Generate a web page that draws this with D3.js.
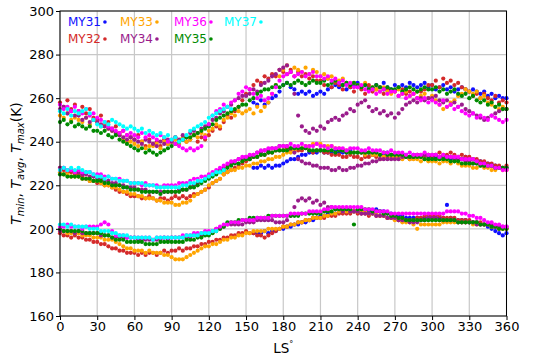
<!DOCTYPE html>
<html>
<head>
<meta charset="utf-8">
<script src="https://cdn.jsdelivr.net/npm/d3@7"></script>
<style>
  body { margin: 0; background: #fff; }
  svg text { font-family: "DejaVu Sans", sans-serif; }
</style>
</head>
<body>
<svg id="chart" width="550" height="361"></svg>
<script>
'use strict';

// ---- series meta ----
const seriesNames = ['MY31', 'MY32', 'MY33', 'MY34', 'MY35', 'MY36', 'MY37'];
const seriesColors = ['#1010ff', '#d42a2a', '#ffa500', '#9a1c8c', '#008a00', '#ff00ff', '#00ffff'];
const seriesStartLs = [156, 0, 0, 0, 0, 0, 0];   // first solar longitude of each record
const lsStep = 3;                                 // one value every 3 deg of LS

const xTicks = [0, 30, 60, 90, 120, 150, 180, 210, 240, 270, 300, 330, 360];
const yTicks = [160, 180, 200, 220, 240, 260, 280, 300];

// ---- Tmax (K) ----
const my31Max = [258,257,259,257,258,260,261,263,266,267, 265,264,262,263,262,263,261,262,263,262,
  264,265,266,265,266,264,265,266,267,265, 266,265,264,266,265,267,265,264,266,265,
  266,265,267,266,265,266,267,265,266,264, 265,266,264,265,263,264,265,264,263,264,
  263,262,263,261,262,260,261,260,260];
const my32Max = [258,256,259,255,257,254,256,253,255,251, 250,252,248,249,246,247,244,245,243,242,
  241,243,240,238,241,239,240,238,241,239, 240,242,239,241,240,241,243,240,242,241,
  243,245,247,246,249,252,251,254,256,259, 262,264,266,268,267,270,269,271,270,273,
  272,271,273,270,272,270,271,269,270,268, 268,266,269,265,267,266,264,267,265,263,
  265,264,262,266,263,264,265,262,264,263, 263,261,264,262,263,262,260,263,264,266,
  266,268,265,269,267,268,266,267,265,264, 263,261,262,260,262,260,259,261,258,259, 258];
const my33Max = [252,251,253,250,251,250,249,251,248,250, 249,247,248,246,245,244,243,241,240,240,
  239,238,240,237,238,238,239,237,240,239, 240,241,239,242,240,241,243,242,244,243,
  245,246,248,247,250,251,253,252,254,253, 254,255,253,256,254,256,258,262,266,270,
  273,275,272,274,273,272,274,271,273,272, 270,271,269,270,268,268,269,267,266,267,
  266,265,267,264,265,264,263,265,263,262, 263,264,262,263,261,262,263,261,262,260,
  261,259,257,255,256,258,259,261,262,264, 263,262,263,260,261,258,257,256,255,256, 255];
const my34Max = [255,256,253,254,252,252,250,251,249,250, 249,248,247,246,245,244,243,242,241,242,
  241,240,239,241,240,239,238,240,239,241, 240,242,241,243,242,244,245,244,246,247,
  248,250,251,253,254,256,257,259,260,261, 261,262,264,263,266,267,268,270,271,273,
  274,275,272,262,252,247,245,244,246,245, 247,246,249,250,251,250,252,253,255,254,
  257,258,259,256,254,255,253,254,252,253, 251,253,255,257,258,259,258,260,259,260,
  260,261,259,258,259,257,258,256,257,255, 254,253,252,251,250,251,252,253,254,255, 255];
const my35Max = [249,250,248,249,247,248,247,246,247,245, 245,244,245,243,242,243,241,240,239,238,
  237,236,237,235,236,235,234,235,236,237, 238,239,240,241,242,242,243,244,245,246,
  247,248,250,251,252,253,254,255,256,257, 257,259,260,262,263,264,264,265,266,265,
  266,267,266,267,268,267,266,267,268,267, 267,268,266,267,268,267,266,267,266,267,
  266,265,266,264,265,266,265,264,265,264, 264,265,263,264,265,264,263,264,265,264,
  264,265,263,264,262,263,264,262,261,262, 260,261,259,258,259,257,258,256,257,255, 255];
const my36Max = [257,255,256,254,256,254,253,255,252,253, 251,250,249,247,246,245,244,245,243,244,
  243,242,244,242,243,242,241,243,242,240, 241,239,238,237,236,237,236,237,238,242,
  248,252,254,255,257,256,258,259,262,263, 265,264,262,260,261,259,260,262,265,268,
  270,271,272,270,271,272,270,271,272,270, 270,269,270,268,269,267,268,266,267,265,
  265,266,264,263,264,262,263,264,262,263, 263,261,262,260,261,262,260,259,260,258,
  259,258,257,259,256,257,255,256,254,253, 252,253,251,252,251,250,252,251,250,249, 250];
const my37Max = [254,253,255,252,254,253,254,255,253,250, 248,247,249,248,250,249,248,247,246,247,
  246,245,246,244,245,244,243,244,242,243, 241,242,240,241,243,245,246,247,248,249,
  251,252,253,254,255,256,255];

// ---- Tavg (K) ----
const my31Avg = [228,228,229,228,229,228,229,229,230,231, 232,232,233,234,234,235,235,235,236,235,
  235,235,236,235,235,235,236,235,235,235, 234,235,234,235,234,234,235,234,234,234,
  234,234,233,234,233,233,234,233,233,233, 233,233,233,232,233,232,232,233,232,232,
  231,231,230,230,229,229,228,228,228];
const my32Avg = [228,227,226,226,225,225,224,223,222,222, 221,221,220,220,219,218,217,217,216,215,
  215,215,214,214,215,214,213,214,214,213, 214,215,214,215,214,215,216,216,217,218,
  219,221,222,223,225,226,227,228,229,230, 231,232,233,233,234,234,235,235,236,236,
  236,237,236,237,236,236,237,236,235,236, 236,235,235,234,234,234,233,233,234,233,
  233,232,233,233,234,233,232,233,233,234, 233,233,234,233,232,233,234,233,233,234,
  233,234,235,234,234,235,234,233,234,233, 233,232,232,231,231,230,230,229,229,228, 229];
const my33Avg = [226,225,225,224,224,224,223,223,222,222, 222,221,220,220,219,219,218,217,217,216,
  216,215,215,214,214,214,213,213,212,212, 212,211,211,212,212,213,215,216,217,218,
  220,221,222,223,225,226,227,227,228,228, 229,229,230,230,231,231,232,232,233,233,
  234,235,235,236,237,237,238,238,239,239, 239,238,238,238,237,237,236,236,235,235,
  235,235,234,235,234,234,234,233,234,233, 233,233,232,233,232,232,232,231,232,231,
  231,231,230,231,231,230,231,230,229,229, 229,228,228,229,228,228,227,227,228,227, 227];
const my34Avg = [228,228,227,227,226,226,225,225,224,224, 223,223,222,222,221,221,220,220,219,219,
  219,218,218,218,217,217,217,217,217,217, 217,217,218,218,218,219,220,221,222,223,
  224,225,226,227,228,229,230,231,232,232, 233,233,234,235,235,236,236,237,237,238,
  238,238,237,235,232,231,230,230,229,229, 228,228,228,227,227,228,227,227,228,228,
  229,229,230,230,231,231,232,232,232,232, 232,232,233,233,233,233,234,234,234,234,
  234,234,233,233,233,233,232,232,232,231, 231,230,230,230,229,229,229,228,228,228, 228];
const my35Avg = [225,225,224,224,224,224,223,223,223,222, 222,222,221,221,220,220,220,219,219,218,
  218,218,217,217,217,217,217,216,217,217, 217,217,217,218,218,219,219,220,221,222,
  223,224,225,226,227,228,229,230,230,231, 232,232,233,233,234,234,235,235,236,236,
  236,236,237,237,237,237,237,236,236,236, 236,236,236,236,235,236,236,235,235,235,
  235,235,235,235,235,235,234,235,234,234, 234,234,234,233,233,233,233,233,232,232,
  232,232,232,232,232,231,231,231,230,230, 230,230,230,229,229,229,229,228,228,228, 228];
const my36Avg = [227,228,227,227,226,227,226,226,226,225, 225,225,224,224,223,223,223,222,222,221,
  221,221,220,221,220,220,220,219,220,220, 220,220,221,221,221,222,223,223,224,224,
  225,226,227,228,229,230,231,231,232,233, 233,234,234,235,236,236,237,237,237,238,
  238,238,239,238,238,239,238,238,238,239, 238,238,237,238,237,237,237,236,237,237,
  237,236,236,237,236,236,236,235,235,236, 235,235,235,234,235,234,234,234,235,234,
  234,234,233,234,233,233,233,233,232,232, 232,232,231,230,230,229,229,228,228,227, 227];
const my37Avg = [227,228,227,228,227,228,227,226,226,225, 224,224,223,224,223,223,222,222,222,221,
  221,221,221,220,220,220,219,219,219,219, 219,219,219,220,220,221,221,222,222,223,
  224,225,226,226,227];

// ---- Tmin (K) ----
const my31Min = [198,198,198,199,198,199,199,200,200,201, 201,202,202,203,203,204,204,205,206,206,
  207,207,207,208,208,208,208,208,208,208, 208,208,208,209,208,208,207,207,206,206,
  206,205,205,205,205,205,205,205,205,205, 205,205,211,205,204,204,204,204,203,203,
  203,202,202,201,200,199,198,197,198];
const my32Min = [198,197,197,196,197,196,196,195,195,194, 194,193,193,192,191,191,190,190,189,189,
  189,188,189,188,189,189,188,189,190,189, 190,190,191,190,191,191,192,192,193,193,
  194,194,195,195,196,196,197,197,198,198, 199,198,198,197,197,196,197,198,199,200,
  201,201,202,202,203,203,204,204,205,205, 205,205,206,206,206,207,207,207,207,208,
  207,207,207,206,207,206,206,206,205,205, 205,204,205,204,204,204,205,205,206,206,
  206,206,206,205,205,205,205,204,204,204, 204,203,203,203,202,202,201,201,200,200, 200];
const my33Min = [199,199,198,198,198,198,197,197,197,196, 196,196,195,195,195,194,193,192,191,191,
  190,190,190,189,190,189,189,189,188,188, 187,186,186,186,187,188,189,190,191,192,
  192,193,193,194,195,195,196,196,197,197, 198,198,199,199,199,199,200,200,200,200,
  201,201,202,202,203,203,204,204,205,205, 205,206,206,207,207,208,208,208,208,208,
  208,208,208,207,207,207,206,206,205,205, 204,204,203,203,203,202,200,202,202,202,
  202,202,202,203,203,203,203,203,203,203, 203,202,202,202,202,202,201,201,200,200, 200];
const my34Min = [199,199,199,199,198,199,198,198,198,198, 198,197,197,197,196,196,196,196,196,196,
  196,195,195,195,195,195,195,195,196,195, 196,196,196,196,196,196,197,197,197,198,
  198,199,200,200,201,202,202,202,202,202, 203,203,203,204,204,204,204,204,203,203,
  203,204,206,210,213,214,213,214,212,213, 211,212,210,210,209,209,208,209,208,208,
  208,207,207,207,207,206,206,206,205,205, 205,204,204,204,203,203,203,204,204,205,
  205,205,204,204,204,204,204,203,203,203, 203,203,202,202,202,202,202,201,201,201, 201];
const my35Min = [200,199,199,199,199,199,199,198,198,198, 198,198,197,197,196,195,195,195,194,194,
  194,194,194,193,193,193,193,194,194,194, 194,194,194,194,195,195,195,196,196,197,
  197,198,199,200,201,203,203,203,204,204, 204,205,205,205,205,205,206,206,206,206,
  206,206,206,206,206,207,207,207,207,207, 207,208,208,208,209,209,209,209,209,202,
  209,209,209,209,208,208,208,207,207,206, 206,205,205,204,204,204,204,204,204,204,
  204,204,204,204,204,204,204,203,203,203, 203,203,203,202,202,202,201,201,200,200, 200];
const my36Min = [201,201,202,201,201,201,200,201,201,201, 201,202,203,202,199,197,197,197,196,196,
  196,196,196,196,196,195,196,196,196,196, 196,196,196,197,197,197,198,198,198,199,
  199,199,200,201,202,202,203,203,203,204, 204,204,204,205,205,205,205,206,206,206,
  206,206,207,207,207,207,207,208,208,208, 208,209,209,210,210,210,210,210,210,210,
  210,210,209,209,209,208,208,208,208,207, 207,207,207,207,207,207,207,207,207,207,
  207,207,207,207,208,208,208,208,207,207, 206,206,205,205,204,203,203,202,202,201, 201];
const my37Min = [202,202,201,202,201,201,201,201,200,200, 200,199,199,199,198,198,197,197,197,196,
  196,196,196,196,196,195,196,196,196,196, 196,196,196,196,197,197,197,197,198,198,
  198,199,199];

const maxSeries = [my31Max, my32Max, my33Max, my34Max, my35Max, my36Max, my37Max];
const avgSeries = [my31Avg, my32Avg, my33Avg, my34Avg, my35Avg, my36Avg, my37Avg];
const minSeries = [my31Min, my32Min, my33Min, my34Min, my35Min, my36Min, my37Min];

// ---- layout ----
const W = 550, H = 361;
const margin = { top: 11, right: 43.5, bottom: 45, left: 60 };
const innerW = W - margin.left - margin.right;
const innerH = H - margin.top - margin.bottom;

const svg = d3.select('#chart');
const g = svg.append('g').attr('transform', `translate(${margin.left},${margin.top})`);

const x = d3.scaleLinear().domain([0, 360]).range([0, innerW]);
const y = d3.scaleLinear().domain([160, 300]).range([innerH, 0]);

// grid
g.append('g').selectAll('line').data(xTicks).join('line')
  .attr('x1', d => x(d)).attr('x2', d => x(d))
  .attr('y1', 0).attr('y2', innerH)
  .attr('stroke', '#c8c8c8').attr('stroke-width', 1.2);
g.append('g').selectAll('line').data(yTicks).join('line')
  .attr('x1', 0).attr('x2', innerW)
  .attr('y1', d => y(d)).attr('y2', d => y(d))
  .attr('stroke', '#c8c8c8').attr('stroke-width', 1.2);

// points, one record after the other
const dots = g.append('g');
seriesNames.forEach((name, s) => {
  [maxSeries[s], avgSeries[s], minSeries[s]].forEach(vals => {
    const pts = vals.map((t, i) => ({ ls: seriesStartLs[s] + i * lsStep, t }));
    dots.append('g').selectAll('circle').data(pts).join('circle')
      .attr('cx', d => x(d.ls))
      .attr('cy', d => y(d.t))
      .attr('r', 2.1)
      .attr('fill', seriesColors[s]);
  });
});

// axes
const xAxis = g.append('g').attr('transform', `translate(0,${innerH})`)
  .call(d3.axisBottom(x).tickValues(xTicks).tickSize(4).tickPadding(2).tickFormat(d3.format('d')));
const yAxis = g.append('g')
  .call(d3.axisLeft(y).tickValues(yTicks).tickSize(4).tickPadding(2).tickFormat(d3.format('d')));
[xAxis, yAxis].forEach(a => {
  a.select('.domain').remove();
  a.selectAll('line').attr('stroke', '#000');
  a.selectAll('text').attr('font-size', 13).attr('fill', '#000')
    .style('font-family', '"DejaVu Sans", sans-serif');
});

// frame
g.append('rect').attr('width', innerW).attr('height', innerH)
  .attr('fill', 'none').attr('stroke', '#000').attr('stroke-width', 1);

// legend
const legendPos = [[8, 15], [8, 32], [60, 15], [60, 32], [114, 32], [114, 15], [164, 15]];
seriesNames.forEach((name, s) => {
  const [lx, ly] = legendPos[s];
  const t = g.append('text').attr('x', lx).attr('y', ly)
    .attr('font-size', 12).attr('fill', seriesColors[s]).text(name);
  const len = t.node().getComputedTextLength();
  g.append('circle').attr('cx', lx + len + 4).attr('cy', ly - 4).attr('r', 1.8)
    .attr('fill', seriesColors[s]);
});

// axis labels
const yl = svg.append('text')
  .attr('transform', `translate(21,${margin.top + innerH / 2}) rotate(-90)`)
  .attr('text-anchor', 'middle').attr('font-size', 14);
[['T', 'min', ', '], ['T', 'avg', ', '], ['T', 'max', '(K)']].forEach(([a, sub, tail]) => {
  yl.append('tspan').attr('font-style', 'italic').text(a);
  yl.append('tspan').attr('font-style', 'italic').attr('font-size', 10).attr('dy', 3).text(sub);
  yl.append('tspan').attr('dy', -3).text(tail);
});

const xl = svg.append('text')
  .attr('x', margin.left + innerW / 2).attr('y', 353)
  .attr('text-anchor', 'middle').attr('font-size', 13.5);
xl.append('tspan').text('LS');
xl.append('tspan').attr('font-size', 8).attr('dy', -6).text('°');
</script>
</body>
</html>
